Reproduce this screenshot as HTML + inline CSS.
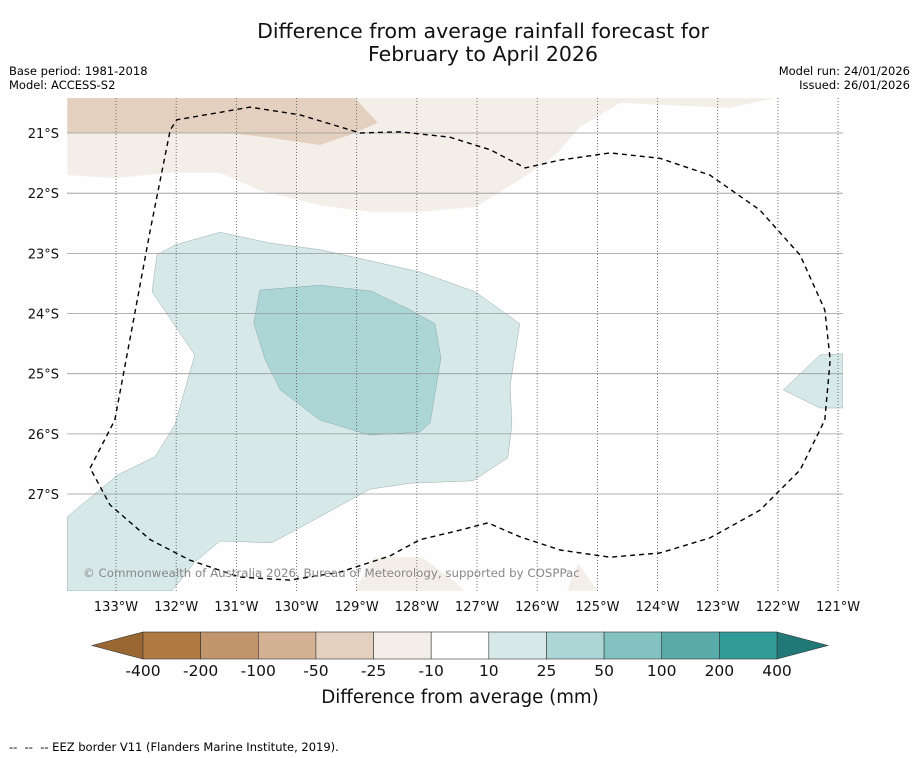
<!DOCTYPE html>
<html><head><meta charset="utf-8">
<style>
body{margin:0;background:#fefefe;font-family:"DejaVu Sans","Liberation Sans",sans-serif;}
#wrap{position:relative;width:919px;height:758px;overflow:hidden;background:#fefefe;}
svg text{font-family:"DejaVu Sans","Liberation Sans",sans-serif;}
</style></head>
<body>
<div id="wrap">
<svg id="svg" width="919" height="758" xmlns="http://www.w3.org/2000/svg">
<text x="483" y="38" font-size="20.5" text-anchor="middle" fill="#111">Difference from average rainfall forecast for</text>
<text x="483" y="61" font-size="20.5" text-anchor="middle" fill="#111">February to April 2026</text>
<text x="9" y="75" font-size="11.5" fill="#000">Base period: 1981-2018</text>
<text x="9" y="89" font-size="11.5" fill="#000">Model: ACCESS-S2</text>
<text x="910" y="75" font-size="11.5" fill="#000" text-anchor="end">Model run: 24/01/2026</text>
<text x="910" y="89" font-size="11.5" fill="#000" text-anchor="end">Issued: 26/01/2026</text>
<defs><clipPath id="mapclip"><rect x="67" y="98" width="776" height="493"/></clipPath></defs>
<g id="map" clip-path="url(#mapclip)"></g>
<g id="axes"></g>
<g id="cbar"></g>
<text x="460" y="703" font-size="18.2" text-anchor="middle" fill="#111">Difference from average (mm)</text>
<text x="9" y="751" font-size="11.5" fill="#000">--&#160;&#160;--&#160;&#160;-- EEZ border V11 (Flanders Marine Institute, 2019).</text>
</svg>
</div>
<script>
const lonTicks=[-133,-132,-131,-130,-129,-128,-127,-126,-125,-124,-123,-122,-121];
const latTicks=[-21,-22,-23,-24,-25,-26,-27];
const cbarLevels=["-400","-200","-100","-50","-25","-10","10","25","50","100","200","400"];
const cbarColors=["#b07a42","#c2966c","#d4b192","#e4d0bf","#f3eee8","#ffffff","#d6e9e8","#acd6d6","#82c2c0","#59abaa","#319b98"];
const brownLight=[[-133.81,-20.42],[-133.81,-21.70],[-133.02,-21.75],[-132.10,-21.66],[-131.27,-21.66],[-130.61,-21.95],[-129.61,-22.20],[-128.78,-22.31],[-127.95,-22.31],[-127.03,-22.23],[-126.29,-21.78],[-125.70,-21.37],[-125.29,-20.90],[-124.62,-20.50],[-123.96,-20.53],[-122.80,-20.58],[-122.05,-20.42]];
const brownDark=[[-133.81,-20.42],[-129.03,-20.42],[-128.65,-20.83],[-129.11,-21.03],[-129.61,-21.20],[-130.44,-21.08],[-131.11,-21.0],[-133.81,-21.0]];
const brownBottom1=[[-129.03,-28.61],[-128.72,-28.05],[-127.92,-28.05],[-127.40,-28.43],[-127.22,-28.61]];
const brownBottom2=[[-125.50,-28.61],[-125.32,-28.15],[-125.00,-28.61]];
const tealLight=[[-133.81,-27.38],[-132.97,-26.68],[-132.35,-26.38],[-132.02,-25.85],[-131.69,-24.69],[-132.40,-23.64],[-132.32,-23.03],[-132.02,-22.86],[-131.27,-22.65],[-130.44,-22.83],[-129.61,-22.94],[-128.70,-23.14],[-127.95,-23.31],[-127.03,-23.64],[-126.29,-24.17],[-126.45,-25.19],[-126.42,-25.85],[-126.49,-26.40],[-127.07,-26.78],[-128.11,-26.82],[-128.78,-26.92],[-129.78,-27.47],[-130.41,-27.81],[-131.27,-27.78],[-131.69,-28.13],[-132.07,-28.61],[-133.81,-28.61]];
const tealMid=[[-130.61,-23.61],[-129.61,-23.53],[-128.75,-23.63],[-128.11,-23.94],[-127.70,-24.17],[-127.60,-24.74],[-127.78,-25.82],[-127.95,-25.97],[-128.78,-26.02],[-129.61,-25.77],[-130.27,-25.27],[-130.52,-24.77],[-130.71,-24.16]];
const tealRight=[[-121.91,-25.27],[-121.30,-24.69],[-120.92,-24.67],[-120.92,-25.57],[-121.30,-25.57]];
const eez=[[-133.43,-26.57],[-133.02,-25.77],[-132.77,-24.44],[-132.43,-22.61],[-132.10,-20.95],[-131.99,-20.78],[-130.77,-20.57],[-129.94,-20.70],[-128.94,-21.0],[-128.28,-20.98],[-127.45,-21.07],[-126.78,-21.28],[-126.20,-21.58],[-125.62,-21.45],[-124.79,-21.33],[-123.96,-21.42],[-123.13,-21.70],[-122.30,-22.28],[-121.63,-23.03],[-121.22,-23.94],[-121.13,-24.77],[-121.22,-25.77],[-121.63,-26.60],[-122.30,-27.27],[-123.13,-27.73],[-123.96,-27.98],[-124.79,-28.05],[-125.62,-27.93],[-126.29,-27.71],[-126.82,-27.48],[-127.28,-27.60],[-127.95,-27.76],[-128.45,-28.03],[-129.28,-28.30],[-130.11,-28.43],[-130.94,-28.38],[-131.77,-28.10],[-132.43,-27.76],[-133.10,-27.18],[-133.43,-26.57]];

const NS="http://www.w3.org/2000/svg";
const PX=60.17;
function xs(lon){return 116+(lon+133)*PX;}
function ys(lat){return 133+(-21-lat)*PX;}
function mk(tag,attrs,parent){const e=document.createElementNS(NS,tag);for(const k in attrs)e.setAttribute(k,attrs[k]);parent.appendChild(e);return e;}
const map=document.getElementById('map');
const axes=document.getElementById('axes');
function poly(pts,fill,stroke,name){
  const d=pts.map((p,i)=>(i?'L':'M')+xs(p[0]).toFixed(1)+' '+ys(p[1]).toFixed(1)).join(' ')+' Z';
  const e=mk('path',{d:d,fill:fill,stroke:stroke,'stroke-width':0.5},map);
  
  
}
poly(brownLight,'#f3eee8','none','contour-minus25-to-minus10');
poly(brownDark,'#e4d0bf','none','contour-minus50-to-minus25');
poly(brownBottom1,'#f3eee8','none','contour-bottom-dry-1');
poly(brownBottom2,'#f3eee8','none','contour-bottom-dry-2');
poly(tealLight,'#d6e9e8','#9aaaaa','contour-10-to-25');
poly(tealMid,'#acd6d6','#8aa8a8','contour-25-to-50');
poly(tealRight,'#d6e9e8','#9aaaaa','contour-east-10-to-25');
lonTicks.forEach(lon=>{
  const g=mk('line',{x1:xs(lon),x2:xs(lon),y1:98,y2:591,stroke:'#555','stroke-width':0.8,'stroke-dasharray':'1,2'},map);
  
  
  const t=mk('text',{x:xs(lon),y:611,'font-size':13,'text-anchor':'middle',fill:'#111'},axes);
  t.textContent=Math.abs(lon)+'°W';
  
  
});
latTicks.forEach(lat=>{
  const g=mk('line',{x1:67,x2:843,y1:ys(lat),y2:ys(lat),stroke:'#999','stroke-width':0.8},map);
  
  
  const t=mk('text',{x:59,y:ys(lat)+5,'font-size':13,'text-anchor':'end',fill:'#111'},axes);
  t.textContent=Math.abs(lat)+'°S';
  
  
});
const ed=eez.map((p,i)=>(i?'L':'M')+xs(p[0]).toFixed(1)+' '+ys(p[1]).toFixed(1)).join(' ');
const el=mk('path',{d:ed,fill:'none',stroke:'#000','stroke-width':1.4,'stroke-dasharray':'5,4','stroke-linejoin':'round'},map);


const cp=mk('text',{x:83,y:577,'font-size':11.8,fill:'#888'},map);
cp.textContent='© Commonwealth of Australia 2026, Bureau of Meteorology, supported by COSPPac';


const cb=document.getElementById('cbar');
const cx0=143,cx1=777,cy0=632,cy1=659,bw=(cx1-cx0)/cbarColors.length;
const lt=mk('polygon',{points:`${cx0},${cy0} 92,${(cy0+cy1)/2} ${cx0},${cy1}`,fill:'#9a6632',stroke:'#333','stroke-width':0.6},cb);


const rt=mk('polygon',{points:`${cx1},${cy0} 828,${(cy0+cy1)/2} ${cx1},${cy1}`,fill:'#217977',stroke:'#333','stroke-width':0.6},cb);


cbarColors.forEach((c,i)=>{
  const r=mk('rect',{x:cx0+i*bw,y:cy0,width:bw,height:cy1-cy0,fill:c,stroke:'#333','stroke-width':0.6},cb);
  
  
});
cbarLevels.forEach((l,i)=>{
  const t=mk('text',{x:cx0+i*bw,y:676,'font-size':15.5,'text-anchor':'middle',fill:'#111'},cb);
  t.textContent=l;
  
  
});
</script>
</body></html>
